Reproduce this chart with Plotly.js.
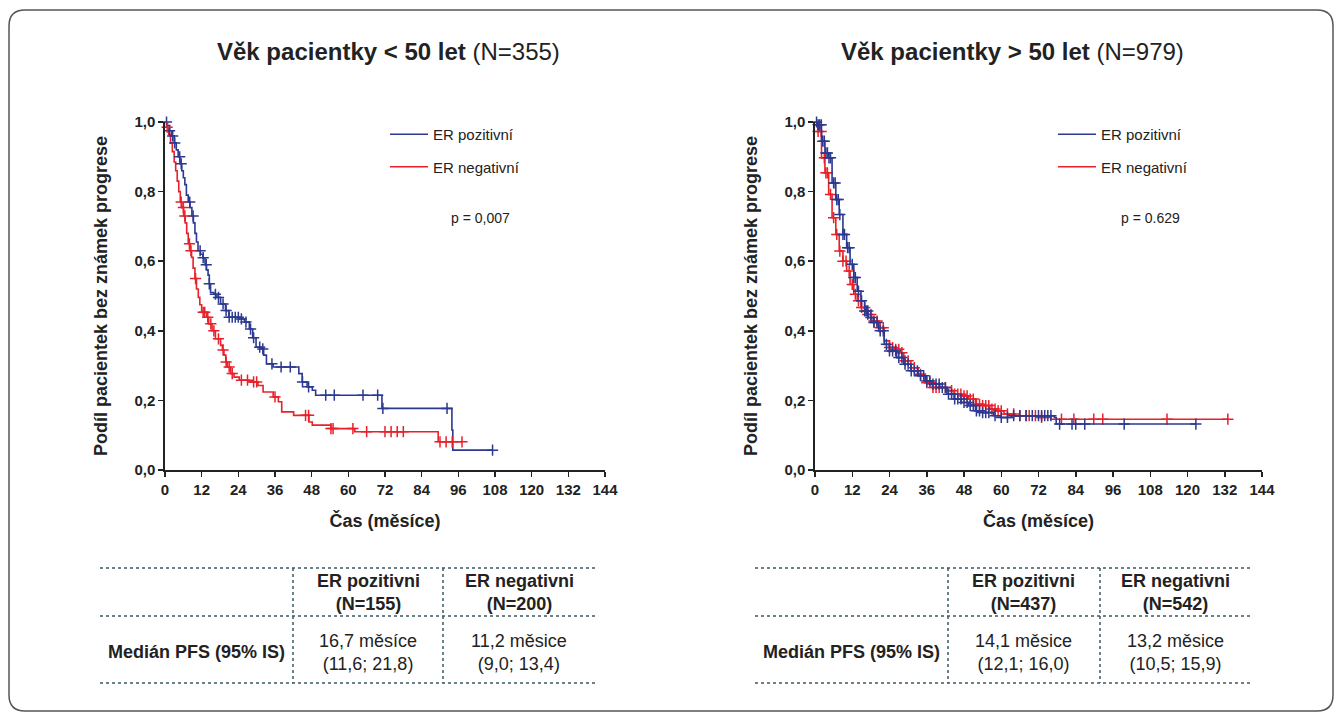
<!DOCTYPE html>
<html>
<head>
<meta charset="utf-8">
<script src="https://cdn.plot.ly/plotly-3.0.1.min.js"></script>
<style>
html,body{margin:0;padding:0;background:#fff;}
#wrap{position:relative;width:1341px;height:719px;overflow:hidden;}
#chart{position:absolute;left:0;top:0;width:1341px;height:719px;}
</style>
</head>
<body>
<div id="wrap"><div id="chart"></div></div>
<script>
// ---------------- DATA ----------------
const xTicks = [0,12,24,36,48,60,72,84,96,108,120,132,144];
const yTickVals = [0,0.2,0.4,0.6,0.8,1.0];
const yTickText = ['0,0','0,2','0,4','0,6','0,8','1,0'];

const seriesNames = ['ER pozitivní','ER negativní'];

// Left panel: age < 50 (N=355)
const leftPosTime = [0,0.8,1.5,2.2,3.0,3.7,4.3,4.9,5.5,6.0,6.5,7.0,7.6,8.2,8.8,9.3,9.8,10.3,10.8,11.6,12.4,13.1,13.6,14.1,14.5,14.9,16.0,17.0,18.2,19.8,20.9,24.3,26,27.6,28.7,29.8,31.5,32.3,33.2,35.4,43.8,44.9,46.5,48.2,49.3,71,93.9,94.2,107.2];
const leftPosSurv = [1,0.99,0.975,0.96,0.94,0.92,0.9,0.88,0.86,0.84,0.82,0.79,0.77,0.754,0.73,0.71,0.68,0.655,0.63,0.62,0.61,0.59,0.575,0.56,0.535,0.51,0.505,0.496,0.477,0.458,0.439,0.434,0.425,0.405,0.38,0.353,0.348,0.33,0.305,0.296,0.277,0.253,0.239,0.229,0.215,0.177,0.115,0.057,0.057];
const leftPosCens = [0.5,1.5,2.5,3.2,4.8,5.3,8.1,9.2,11.5,12.5,13.5,14.5,16.5,17.5,19,20,21,22,23,24,25,26.5,28,29,31,32,35,38,41,45,47,52.6,55.4,64.8,69.6,71.3,92.3,107.2];

const leftNegTime = [0,0.6,1.2,1.8,2.4,3.0,3.5,4.0,4.5,5.0,5.5,6.1,6.6,7.1,7.6,8.2,8.7,9.2,9.8,10.3,10.9,11.4,12,13.7,14.3,15.4,16.5,18.2,18.8,19.3,19.9,20.4,21.5,22.6,24.3,27.6,30.4,32.1,35.4,37.1,38.2,42.1,47.1,48.2,54.3,62.1,89.4,97.2];
const leftNegSurv = [1,0.985,0.965,0.94,0.915,0.885,0.86,0.83,0.8,0.77,0.754,0.73,0.71,0.68,0.65,0.63,0.611,0.58,0.55,0.52,0.496,0.475,0.453,0.439,0.42,0.4,0.377,0.358,0.345,0.33,0.31,0.296,0.277,0.267,0.258,0.253,0.243,0.224,0.21,0.196,0.167,0.157,0.138,0.129,0.119,0.11,0.081,0.081];
const leftNegCens = [0.7,5.3,6,6.5,8,8.5,10,12.5,13,14,15,16,17.5,19,20,21,22,25,27,29,30,36,46,47,54.3,55,61.5,66,72,74,76,78,90,92,94,97.2];

// Right panel: age > 50 (N=979)
const rightPosTime = [0,0.9,2.1,3.2,4.4,5.5,6.7,7.8,9,10.2,11.3,12.5,13.6,14.8,16,17.1,18.8,20.5,22.3,24,26.3,28.6,30.9,33.2,35.5,37.8,40.2,42.5,44.8,47.1,49.4,51.7,54,57.5,59.8,63.2,77.1,77.7,122.7];
const rightPosSurv = [1,0.992,0.945,0.911,0.897,0.825,0.777,0.734,0.677,0.639,0.591,0.553,0.514,0.486,0.457,0.438,0.424,0.4,0.361,0.342,0.323,0.304,0.285,0.271,0.256,0.247,0.237,0.218,0.204,0.194,0.185,0.17,0.165,0.156,0.151,0.156,0.151,0.132,0.132];
const rightPosCens = [0.5,1,1.5,2,2.5,3,3.5,4,4.5,5,6,6.5,7,7.5,8,9,9.5,10.5,11,12,12.5,13,14,15,16,16.5,17,18,19,20,21,22,23,24,25,26,27,28,29,30,31,32,33,34,35,36,37,38,39,40,41,42,43,44,45,46,47,48,49,50,51,52,53,54,55,56,58,60,62,64,66,68,70,72,73,74,75,76,78.8,82.8,84,86.9,99.6,122.7];

const rightNegTime = [0,0.9,2.1,3.2,4.4,5.5,6.7,7.8,9,10.2,11.3,12.5,13.6,14.8,16.5,18.2,20.5,22.3,24,25.7,27.5,28.6,30.9,33.2,35.5,37.8,42.5,44.8,47.1,49.4,51.7,54,56.3,58.6,60.9,64.4,72.5,76,133];
const rightNegSurv = [1,0.973,0.897,0.854,0.792,0.725,0.677,0.629,0.6,0.572,0.533,0.505,0.486,0.467,0.447,0.428,0.409,0.371,0.352,0.347,0.337,0.314,0.294,0.275,0.251,0.237,0.228,0.218,0.213,0.204,0.189,0.185,0.175,0.17,0.161,0.156,0.151,0.146,0.146];
const rightNegCens = [1,2,3,3.5,4,5,6,7,8,9,10,11,12,13,14,15,16,17,18,19,20,21,22,24,25,26,27,28,29,30,32,34,36,37,38,39,40,42,44,45,46,47,48,49,50,51,52,53,54,55,56,57,58,59,60,62,64,66,68,69,71,73,79.4,83.4,89.8,92.7,113.4,133];

const panelTitlesBold = ['Věk pacientky &lt; 50 let','Věk pacientky &gt; 50 let'];
const panelTitlesN = ['(N=355)','(N=979)'];
const pValues = ['p = 0,007','p = 0.629'];
const yTitle = 'Podíl pacientek bez známek progrese';
const xTitle = 'Čas (měsíce)';

const tableRowLabel = 'Medián PFS (95% IS)';
const tableHeadNames = ['ER pozitivni','ER negativni'];
const leftTableN = ['(N=155)','(N=200)'];
const rightTableN = ['(N=437)','(N=542)'];
const leftTableMedian = ['16,7 měsíce','11,2 měsice'];
const leftTableCI = ['(11,6; 21,8)','(9,0; 13,4)'];
const rightTableMedian = ['14,1 měsice','13,2 měsice'];
const rightTableCI = ['(12,1; 16,0)','(10,5; 15,9)'];

// ---------------- STYLE / LAYOUT ----------------
const W = 1341, H = 719;
const BLUE = '#2b3990', RED = '#e8202a';
const FONT = 'Liberation Sans, Arial, Helvetica, sans-serif';
const px = v => v / W;
const py = v => 1 - v / H;

function survAt(times, surv, t){
  let s = surv[0];
  for (let i = 0; i < times.length; i++){ if (times[i] <= t) s = surv[i]; else break; }
  return s;
}

function curve(t, s, color, name, xa, ya, legend, show){
  return {x:t, y:s, type:'scatter', mode:'lines', line:{shape:'hv', color:color, width:1.6},
          name:name, xaxis:xa, yaxis:ya, legend:legend, showlegend:show, cliponaxis:false,
          legendgroup:name+legend, hoverinfo:'skip'};
}
function cens(c, t, s, color, xa, ya){
  return {x:c, y:c.map(v => survAt(t, s, v)), type:'scatter', mode:'markers',
          marker:{symbol:'cross-thin', size:8, line:{width:1.5, color:color}, color:color},
          xaxis:xa, yaxis:ya, showlegend:false, cliponaxis:false, hoverinfo:'skip'};
}

const data = [
  curve(leftPosTime, leftPosSurv, BLUE, seriesNames[0], 'x', 'y', 'legend', true),
  curve(leftNegTime, leftNegSurv, RED, seriesNames[1], 'x', 'y', 'legend', true),
  cens(leftPosCens, leftPosTime, leftPosSurv, BLUE, 'x', 'y'),
  cens(leftNegCens, leftNegTime, leftNegSurv, RED, 'x', 'y'),
  curve(rightNegTime, rightNegSurv, RED, seriesNames[1], 'x2', 'y2', 'legend2', false),
  cens(rightNegCens, rightNegTime, rightNegSurv, RED, 'x2', 'y2'),
  curve(rightPosTime, rightPosSurv, BLUE, seriesNames[0], 'x2', 'y2', 'legend2', true),
  cens(rightPosCens, rightPosTime, rightPosSurv, BLUE, 'x2', 'y2'),
  curve([null], [null], RED, seriesNames[1], 'x2', 'y2', 'legend2', true)
];

function xAxis(domain, anchor){
  return {domain:domain, anchor:anchor, range:[0,144], tickvals:xTicks, ticktext:xTicks.map(String),
    showline:true, linecolor:'#222', linewidth:1.6, ticks:'outside', ticklen:5, tickwidth:1.5, tickcolor:'#222',
    showgrid:false, zeroline:false, fixedrange:true,
    tickfont:{family:FONT, size:15, color:'#222', weight:'bold'},
    title:{text:xTitle, font:{family:FONT, size:18, color:'#222', weight:'bold'}, standoff:18}};
}
function yAxis(domain, anchor){
  return {domain:domain, anchor:anchor, range:[0,1], tickvals:yTickVals, ticktext:yTickText,
    showline:true, linecolor:'#222', linewidth:1.6, ticks:'outside', ticklen:5, tickwidth:1.5, tickcolor:'#222',
    showgrid:false, zeroline:false, fixedrange:true,
    tickfont:{family:FONT, size:15, color:'#222', weight:'bold'},
    title:{text:yTitle, font:{family:FONT, size:18, color:'#222', weight:'bold'}, standoff:22}};
}

const yDom = [py(470), py(122)];
const annotations = [];
const shapes = [];

// Panel titles and p-values
[[388,52],[1012,52]].forEach((p,i) => {
  annotations.push({xref:'paper', yref:'paper', x:px(p[0]), y:py(p[1]), xanchor:'center', yanchor:'middle',
    showarrow:false, text:'<b>'+panelTitlesBold[i]+'</b> '+panelTitlesN[i],
    font:{family:FONT, size:24, color:'#222'}});
});
[[480,218],[1150,218]].forEach((p,i) => {
  annotations.push({xref:'paper', yref:'paper', x:px(p[0]), y:py(p[1]), xanchor:'center', yanchor:'middle',
    showarrow:false, text:pValues[i], font:{family:FONT, size:14, color:'#222'}});
});

// Tables
function table(x0, x1, v1, v2, c1, c2, nArr, medArr, ciArr){
  const lineStyle = {color:'#3d5a66', width:1.5, dash:'dot'};
  [568, 616, 683].forEach(yy => shapes.push({type:'line', xref:'paper', yref:'paper',
    x0:px(x0), x1:px(x1), y0:py(yy), y1:py(yy), line:lineStyle}));
  [v1, v2].forEach(xx => shapes.push({type:'line', xref:'paper', yref:'paper',
    x0:px(xx), x1:px(xx), y0:py(568), y1:py(683), line:lineStyle}));
  const labelX = (x0 + v1) / 2;
  annotations.push({xref:'paper', yref:'paper', x:px(labelX), y:py(652), xanchor:'center', yanchor:'middle',
    showarrow:false, text:'<b>'+tableRowLabel+'</b>', font:{family:FONT, size:18, color:'#222'}});
  [c1, c2].forEach((cx,i) => {
    annotations.push({xref:'paper', yref:'paper', x:px(cx), y:py(592), xanchor:'center', yanchor:'middle',
      showarrow:false, text:'<b>'+tableHeadNames[i]+'<br>'+nArr[i]+'</b>', font:{family:FONT, size:18, color:'#222'}});
    annotations.push({xref:'paper', yref:'paper', x:px(cx), y:py(652), xanchor:'center', yanchor:'middle',
      showarrow:false, text:medArr[i]+'<br>'+ciArr[i], font:{family:FONT, size:18, color:'#222'}});
  });
}
table(100, 595, 293, 443, 368, 519, leftTableN, leftTableMedian, leftTableCI);
table(755, 1250, 948, 1100, 1024, 1175, rightTableN, rightTableMedian, rightTableCI);

// Rounded outer frame
(function(){
  const L=9, T=10, R=1333, B=711, r=16;
  const d = `M ${px(L+r)} ${py(T)} L ${px(R-r)} ${py(T)} Q ${px(R)} ${py(T)} ${px(R)} ${py(T+r)} `+
            `L ${px(R)} ${py(B-r)} Q ${px(R)} ${py(B)} ${px(R-r)} ${py(B)} `+
            `L ${px(L+r)} ${py(B)} Q ${px(L)} ${py(B)} ${px(L)} ${py(B-r)} `+
            `L ${px(L)} ${py(T+r)} Q ${px(L)} ${py(T)} ${px(L+r)} ${py(T)} Z`;
  shapes.push({type:'path', xref:'paper', yref:'paper', path:d, line:{color:'#555', width:1.5}, layer:'below'});
})();

const legendCommon = {font:{family:FONT, size:15, color:'#222'}, bgcolor:'rgba(0,0,0,0)', borderwidth:0,
  xanchor:'left', yanchor:'top', traceorder:'grouped', tracegroupgap:10, itemwidth:38,
  itemclick:false, itemdoubleclick:false};

const layout = {
  width:W, height:H, margin:{l:0, r:0, t:0, b:0}, paper_bgcolor:'#fff', plot_bgcolor:'rgba(0,0,0,0)',
  font:{family:FONT, color:'#222'},
  xaxis: xAxis([px(165), px(605)], 'y'),
  yaxis: yAxis(yDom, 'x'),
  xaxis2: xAxis([px(815), px(1262)], 'y2'),
  yaxis2: yAxis(yDom, 'x2'),
  legend: Object.assign({x:px(385), y:py(118)}, legendCommon),
  legend2: Object.assign({x:px(1053), y:py(118)}, legendCommon),
  annotations: annotations,
  shapes: shapes,
  showlegend: true
};

Plotly.newPlot('chart', data, layout, {displayModeBar:false, staticPlot:true});
</script>
</body>
</html>
